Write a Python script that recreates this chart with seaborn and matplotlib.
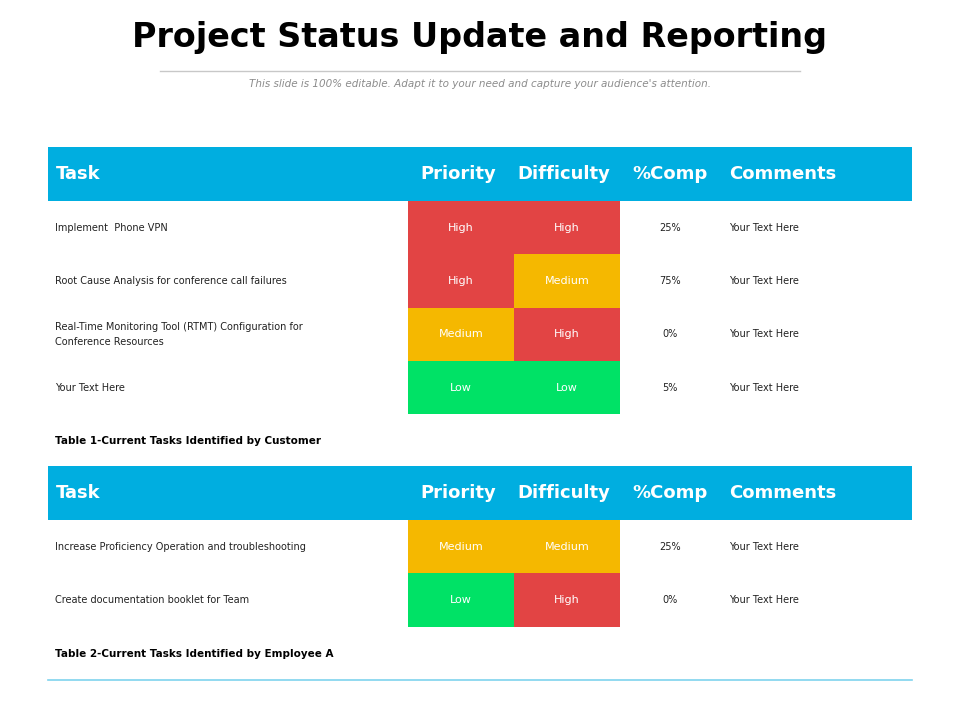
import matplotlib
matplotlib.use("Agg")
import matplotlib.pyplot as plt
import seaborn as sns
import numpy as np
from matplotlib.colors import ListedColormap
from matplotlib.patches import Rectangle

headers = ["Task", "Priority", "Difficulty", "%Comp", "Comments"]
t1_tasks = ["Implement  Phone VPN", "Root Cause Analysis for conference call failures",
            "Real-Time Monitoring Tool (RTMT) Configuration for\nConference Resources", "Your Text Here"]
t1_priority = ["High", "High", "Medium", "Low"]
t1_difficulty = ["High", "Medium", "High", "Low"]
t1_comp = ["25%", "75%", "0%", "5%"]
t1_comments = ["Your Text Here"] * 4
t2_tasks = ["Increase Proficiency Operation and troubleshooting", "Create documentation booklet for Team"]
t2_priority = ["Medium", "Low"]
t2_difficulty = ["Medium", "High"]
t2_comp = ["25%", "0%"]
t2_comments = ["Your Text Here"] * 2
captions = ["Table 1-Current Tasks Identified by Customer", "Table 2-Current Tasks Identified by Employee A"]

level_code = {"Low": 0, "Medium": 1, "High": 2}
cmap = ListedColormap(["#00E266", "#F5B800", "#E24444"])
BLUE = "#00AEE0"

fig = plt.figure(figsize=(9.6, 7.2), dpi=100)
ax = fig.add_axes([0, 0, 1, 1])
ax.set_xlim(0, 960); ax.set_ylim(720, 0); ax.axis("off")

ax.text(480, 38, "Project Status Update and Reporting", ha="center", va="center",
        fontsize=24, fontweight="bold", family=["Liberation Sans Narrow", "DejaVu Sans"])
ax.plot([160, 800], [71, 71], color="#C8C8C8", lw=1)
ax.text(480, 84, "This slide is 100% editable. Adapt it to your need and capture your audience's attention.",
        ha="center", va="center", fontsize=7.5, style="italic", color="#8C8C8C")

col_x = [56, 458, 564, 670, 729]
col_ha = ["left", "center", "center", "center", "left"]

def table(top, tasks, pri, dif, comp, comm, caption):
    ax.add_patch(Rectangle((48, top), 864, 54, color=BLUE, lw=0))
    for x, h, ha in zip(col_x, headers, col_ha):
        ax.text(x, top + 27, h, color="white", fontsize=13, fontweight="bold", ha=ha, va="center",
                family=["Liberation Sans Narrow", "DejaVu Sans"])
    n = len(tasks)
    rh = 53.3
    y0 = top + 54
    hax = fig.add_axes([408 / 960, 1 - (y0 + n * rh) / 720, 212 / 960, n * rh / 720])
    codes = np.array([[level_code[p], level_code[d]] for p, d in zip(pri, dif)])
    labels = np.array([[p, d] for p, d in zip(pri, dif)])
    sns.heatmap(codes, ax=hax, cmap=cmap, vmin=-0.5, vmax=2.5, cbar=False, annot=labels, fmt="",
                annot_kws={"color": "white", "fontsize": 8})
    hax.axis("off")
    for i in range(n):
        yc = y0 + (i + 0.5) * rh
        ax.text(55, yc, tasks[i], fontsize=7, ha="left", va="center", color="#222222", linespacing=1.6)
        ax.text(670, yc, comp[i], fontsize=7, ha="center", va="center", color="#222222")
        ax.text(729, yc, comm[i], fontsize=7, ha="left", va="center", color="#222222")
    ax.text(55, y0 + n * rh + 27, caption, fontsize=7.5, fontweight="bold", ha="left", va="center")

table(147, t1_tasks, t1_priority, t1_difficulty, t1_comp, t1_comments, captions[0])
table(466, t2_tasks, t2_priority, t2_difficulty, t2_comp, t2_comments, captions[1])
ax.plot([48, 912], [680, 680], color="#7FD3EE", lw=1.2)

fig.savefig("out.png", dpi=100)
